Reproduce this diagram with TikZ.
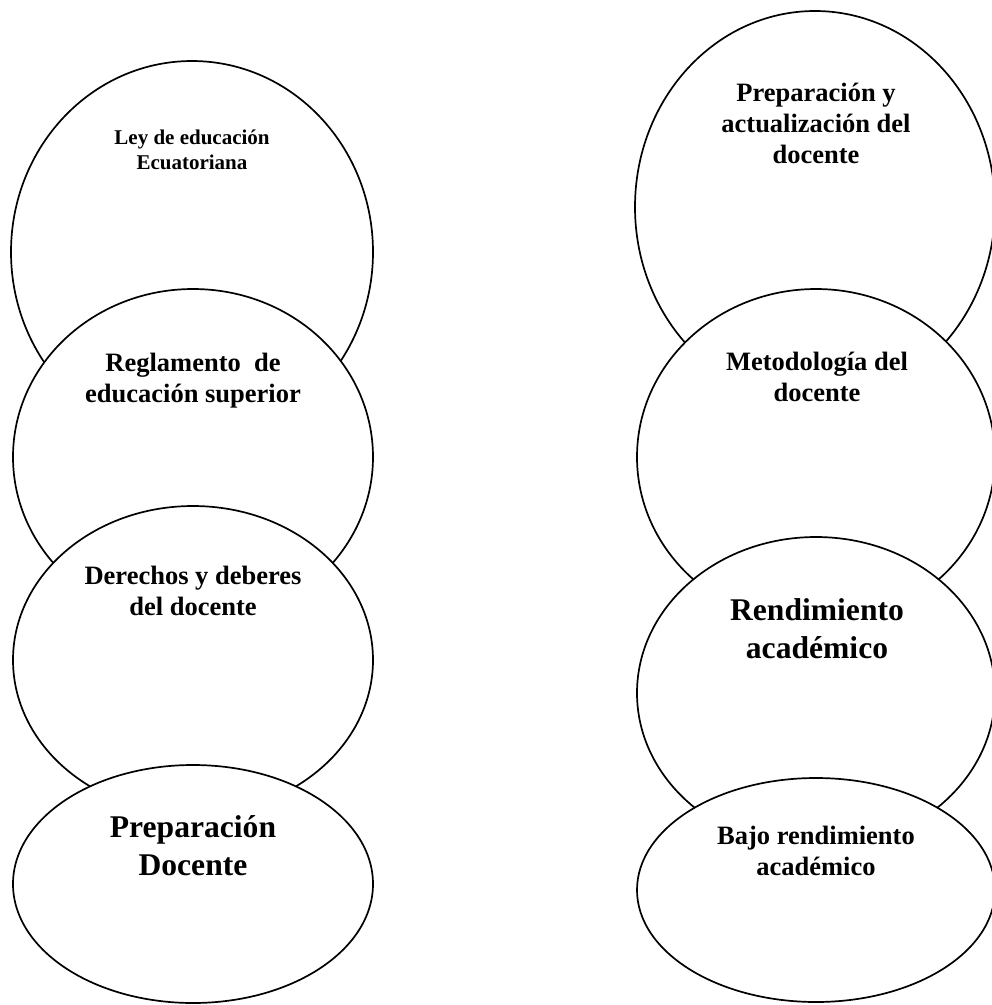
\documentclass[tikz,border=0pt]{standalone}
\usepackage{fontspec}
\setmainfont{Liberation Serif}
\usetikzlibrary{shapes.geometric}
\begin{document}
\begin{tikzpicture}[x=1pt,y=-1pt,
  oval/.style={draw, line width=1.7pt, fill=white, ellipse, inner sep=0pt, outer sep=0pt},
  lbl/.style={align=center, inner sep=0pt, anchor=base},
  fsmall/.style={font=\bfseries\fontsize{21}{25}\selectfont},
  fmid/.style={font=\bfseries\fontsize{26.5}{31}\selectfont},
  fbig/.style={font=\bfseries\fontsize{31.6}{37.5}\selectfont}
]
\useasboundingbox (0,0) rectangle (992,1005);
% left column
\node[oval, minimum width=362, minimum height=382] (L1) at (192,252) {};
\node[lbl, fsmall] (t1) at (192,169) {Ley de educación\\Ecuatoriana};
\node[oval, minimum width=360, minimum height=336] (L2) at (193,457) {};
\node[lbl, fmid] (t2) at (193,402) {Reglamento\ \ de\\educación superior};
\node[oval, minimum width=360, minimum height=308] (L3) at (193,660) {};
\node[lbl, fmid] (t3) at (193,615) {Derechos y deberes\\del docente};
\node[oval, minimum width=360, minimum height=238] (L4) at (193,884) {};
\node[lbl, fbig] (t4) at (193,875) {Preparación\\Docente};
% right column
\node[oval, minimum width=360, minimum height=392] (R1) at (815,207) {};
\node[lbl, fmid] (u1) at (816,163) {Preparación y\\actualización del\\docente};
\node[oval, minimum width=358, minimum height=336] (R2) at (816,457) {};
\node[lbl, fmid] (u2) at (817,401) {Metodología del\\docente};
\node[oval, minimum width=358, minimum height=312] (R3) at (816,693) {};
\node[lbl, fbig] (u3) at (817,658) {Rendimiento\\académico};
\node[oval, minimum width=358, minimum height=224] (R4) at (816,890) {};
\node[lbl, fmid] (u4) at (816,875) {Bajo rendimiento\\académico};
\end{tikzpicture}
\end{document}
